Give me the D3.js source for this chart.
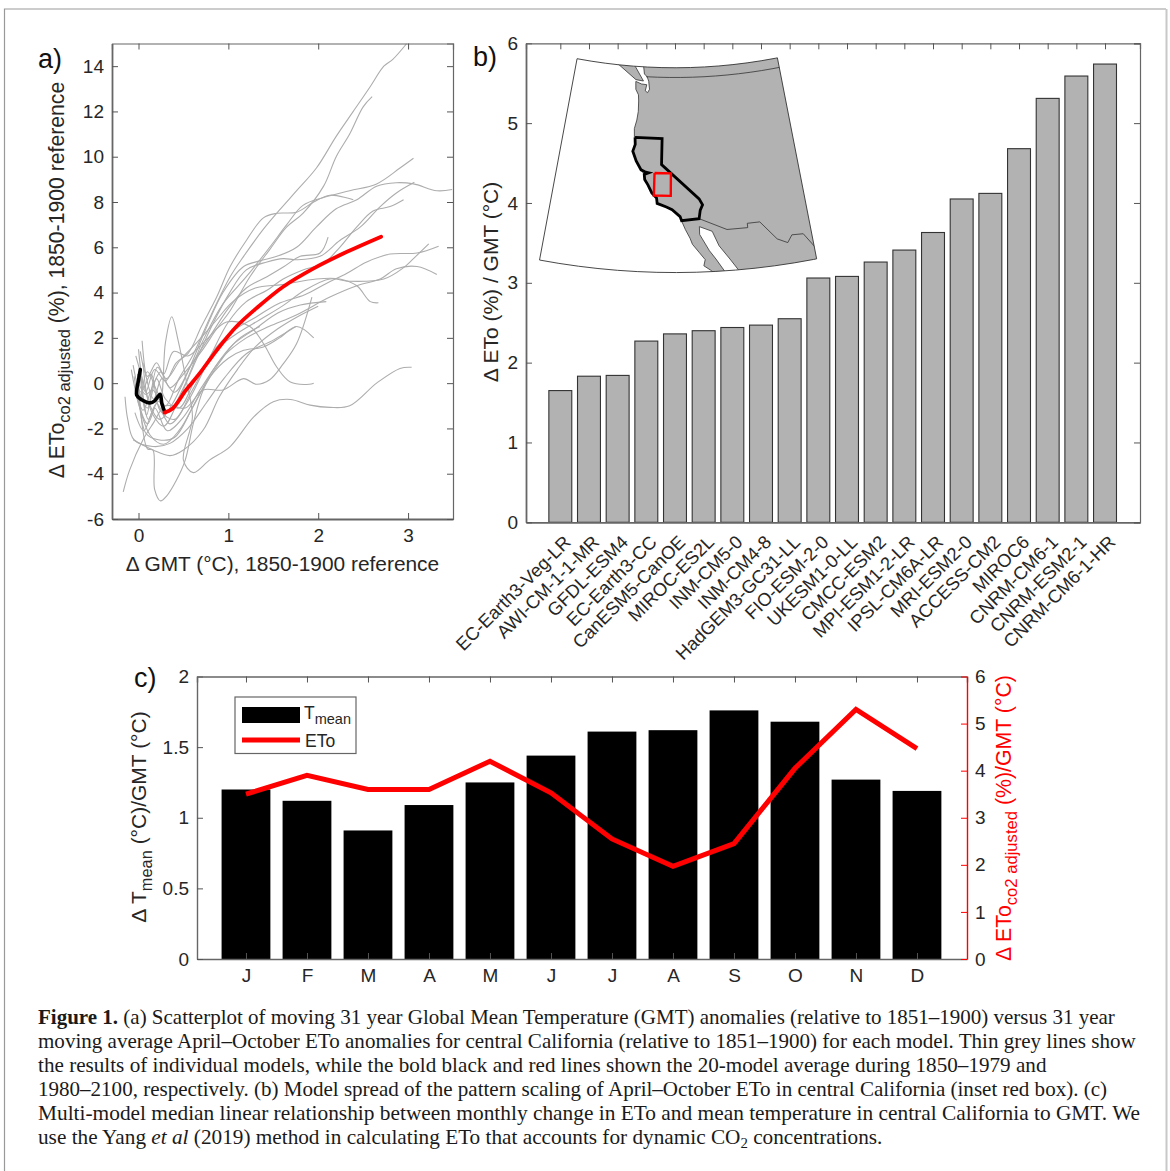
<!DOCTYPE html>
<html>
<head>
<meta charset="utf-8">
<script src="https://cdnjs.cloudflare.com/ajax/libs/d3/7.8.5/d3.min.js"></script>
<style>
  html, body { margin: 0; padding: 0; background: #fff; }
  svg { display: block; }
  text { font-family: "Liberation Sans", Arial, sans-serif; fill: #262626; }
  .caption text { font-family: "Liberation Serif", serif; fill: #1a1a1a; }
</style>
</head>
<body>
<div id="fig"></div>
<script>
// Panel a: each model as [GMT anomaly, ETo anomaly]
var modelLines = [
  [[0.02,-0.8],[0.1,0.5],[0.2,-0.3],[0.3,-1.0],[0.45,0.2],[0.6,1.2],[0.83,3.2],[1.02,4.7],[1.17,5.6],[1.39,6.8],[1.57,7.65],[1.76,8.5],[1.98,9.5],[2.2,10.9],[2.39,12],[2.58,13.1],[2.73,14],[2.83,14.3],[2.985,15]],
  [[-0.05,0.3],[0.05,-1.2],[0.15,-0.2],[0.25,0.5],[0.35,-0.2],[0.5,0.4],[0.7,1.4],[0.87,2.4],[1.02,3.2],[1.24,4.7],[1.46,5.9],[1.65,6.9],[1.83,7.5],[2.06,8.7],[2.2,10],[2.35,11],[2.5,12.2],[2.6,12.65]],
  [[0.0,1.5],[0.08,-0.4],[0.18,0.6],[0.3,0.1],[0.42,0.9],[0.55,1.3],[0.7,2.5],[0.87,3.8],[1.02,5.15],[1.2,6.3],[1.39,7.3],[1.54,7.5],[1.76,7.55],[1.95,8],[2.13,8.3],[2.39,8.1]],
  [[-0.02,-0.6],[0.1,-1.8],[0.22,-0.8],[0.33,-1.3],[0.5,-0.2],[0.72,1.9],[0.94,3.5],[1.2,4.7],[1.46,6],[1.65,7],[1.83,7.85],[2.06,8.2],[2.35,8.5],[2.65,8.8],[2.91,9.5],[3.06,9.93]],
  [[0.05,0.9],[0.12,-0.9],[0.24,-1.6],[0.38,-0.9],[0.55,0.5],[0.75,2.4],[0.94,4],[1.17,5.15],[1.35,5.4],[1.54,5.6],[1.76,6],[1.98,6.9],[2.2,7.7],[2.43,8.1],[2.65,8.7],[2.87,8.85],[3.06,8.8],[3.32,8.5],[3.49,8.55]],
  [[-0.03,1.2],[0.07,-0.2],[0.16,-1.4],[0.28,-1.9],[0.45,-0.7],[0.65,1.1],[0.85,2.8],[1.0,3.9],[1.2,5],[1.43,5.35],[1.61,5.5],[1.76,5.45],[2.02,5.6],[2.24,6.3],[2.47,6.9],[2.69,7.8],[2.87,8.4],[3.07,8.87]],
  [[0.03,0.2],[0.11,-1.6],[0.2,-0.9],[0.35,-1.8],[0.55,-0.8],[0.8,1.2],[1.0,2.7],[1.2,3.6],[1.43,4.1],[1.61,4.6],[1.83,5],[2.06,5.3],[2.24,6],[2.43,6.9],[2.61,7.6],[2.8,7.8],[2.95,8.1]],
  [[0.04,1.87],[0.09,0.2],[0.17,-0.7],[0.26,0.2],[0.4,-0.4],[0.6,0.9],[0.8,2.1],[1.0,3.3],[1.2,4.2],[1.43,4.7],[1.62,5.15],[1.8,5.6],[2.02,5.75],[2.11,6.45]],
  [[-0.06,0.8],[0.03,-0.4],[0.14,0.4],[0.24,-1.2],[0.4,-1.6],[0.6,-0.3],[0.85,1.5],[1.05,2.3],[1.3,2.9],[1.55,3.5],[1.85,3.9],[2.09,4.4],[2.32,4.85],[2.54,5.35],[2.8,5.7],[3.1,5.75],[3.34,6.05]],
  [[0.0,-0.3],[0.1,-1.1],[0.2,0.2],[0.3,-0.7],[0.45,-1.1],[0.65,0.3],[0.9,1.6],[1.1,2.2],[1.35,2.8],[1.6,3.4],[1.85,4.1],[2.13,4.6],[2.35,4.5],[2.73,4.6],[2.95,5.1],[3.06,5.5],[3.23,6.15]],
  [[-0.04,-1.3],[0.06,-2.1],[0.18,-1.1],[0.32,-2.1],[0.5,-1.5],[0.7,-0.2],[0.95,1.2],[1.2,2],[1.45,2.5],[1.75,3],[2.13,3.8],[2.43,4.3],[2.69,4.6],[2.87,5.05],[3.1,5.15],[3.32,4.8]],
  [[0.01,0.7],[0.09,-1.4],[0.21,0.7],[0.31,0.2],[0.46,1.0],[0.65,1.8],[0.85,2.7],[1.05,3.6],[1.3,4.2],[1.6,4.35],[1.98,4.6],[2.24,4.6],[2.43,4.3],[2.58,3.6],[2.67,3.55]],
  [[-0.08,0.6],[0.0,-0.9],[0.13,-2.3],[0.28,-2.7],[0.45,-2.1],[0.65,-0.7],[0.85,0.7],[1.05,1.7],[1.3,2.4],[1.55,3.1],[1.8,3.45],[2.09,3.6]],
  [[-0.01,0.4],[0.08,-2.2],[0.22,-2.5],[0.4,-2.4],[0.6,-1.1],[0.8,0.3],[1.0,1.1],[1.17,1.45],[1.39,1.6],[1.57,2],[1.76,2.5],[1.95,2]],
  [[0.02,1.4],[0.1,0.3],[0.2,0.9],[0.28,0.4],[0.39,1.4],[0.55,1.2],[0.75,1.9],[0.98,2.7],[1.24,2.5],[1.39,1.75],[1.54,0.7],[1.69,0.05],[1.9,-0.05],[1.95,0]],
  [[-0.17,-4.8],[-0.1,-3.85],[0.05,-2.5],[0.16,-1.8],[0.3,-1],[0.52,-1.1],[0.72,-0.3],[0.94,-0.3],[1.17,0.2],[1.31,-0.05],[1.46,0.15],[1.61,0.85],[1.76,1.75],[1.93,3.8]],
  [[-0.06,-2.5],[0.16,-2.95],[0.35,-3.2],[0.5,-2.95],[0.72,-2.07],[0.9,-0.6],[1.1,0.6],[1.3,1.6],[1.55,2.4],[1.8,3],[2.0,3.4]],
  [[-0.15,-0.6],[-0.12,-1.6],[-0.05,-2.5],[0.16,-2.8],[0.35,-2.66],[0.55,-2.0],[0.75,-0.9],[0.95,0.2],[1.2,1.3],[1.5,1.9],[1.75,2.5]],
  [[0.0,0],[0.1,-2.9],[0.16,-2.95],[0.18,-4.7],[0.245,-5.2],[0.31,-5.0],[0.42,-4.3],[0.52,-3.4],[0.61,-1.78],[0.72,-0.3],[0.9,0.9],[1.1,1.9],[1.35,2.5]],
  [[-0.02,0.2],[0.08,-0.5],[0.16,-0.3],[0.24,-0.75],[0.3,1.8],[0.37,2.93],[0.44,1.9],[0.53,0.13],[0.6,-1.5],[0.5,-3.4],[0.61,-3.95],[0.79,-3.4],[1.02,-2.8],[1.28,-1.5],[1.5,-0.82],[1.69,-0.72],[1.91,-0.97],[2.13,-1.07],[2.35,-1],[2.65,0],[2.91,0.65],[3.04,0.7]]
];
var meanEarly = [[0.02,0.6],[0,0.13],[-0.02,-0.53],[0.03,-0.72],[0.13,-0.87],[0.18,-0.78],[0.24,-0.49],[0.26,-0.9],[0.29,-1.26]];
var meanLate = [[0.29,-1.3],[0.38,-1.12],[0.53,-0.3],[0.68,0.43],[0.87,1.45],[1.09,2.5],[1.31,3.3],[1.61,4.26],[1.95,5.07],[2.32,5.8],[2.7,6.47]];

// Panel b
var models = ["EC-Earth3-Veg-LR","AWI-CM-1-1-MR","GFDL-ESM4","EC-Earth3-CC","CanESM5-CanOE","MIROC-ES2L","INM-CM5-0","INM-CM4-8","HadGEM3-GC31-LL","FIO-ESM-2-0","UKESM1-0-LL","CMCC-ESM2","MPI-ESM1-2-LR","IPSL-CM6A-LR","MRI-ESM2-0","ACCESS-CM2","MIROC6","CNRM-CM6-1","CNRM-ESM2-1","CNRM-CM6-1-HR"];
var scaling = [1.65,1.83,1.84,2.27,2.36,2.40,2.44,2.47,2.55,3.06,3.08,3.26,3.41,3.63,4.05,4.12,4.68,5.31,5.59,5.74];

// Panel c
var months = ["J","F","M","A","M","J","J","A","S","O","N","D"];
var tmean = [1.2,1.12,0.91,1.09,1.25,1.44,1.61,1.62,1.76,1.68,1.27,1.19];
var eto = [3.5,3.9,3.6,3.6,4.2,3.53,2.55,1.97,2.45,4.05,5.3,4.47];

// Inset map outlines, [lon, lat]
var mainland = [[-124,52],[-123.3,49.3],[-122.8,49],[-122.5,48.5],[-122.3,47.6],[-122.6,47.2],[-123,47.4],[-122.8,48.1],[-123.7,48.15],[-124.7,48.4],[-124.6,47.5],[-124.1,46.9],[-124,46.2],[-123.95,45],[-124.1,44],[-124.4,43],[-124.3,42],[-124.1,41.2],[-124.4,40.4],[-123.8,39.3],[-123,38.3],[-122.5,37.8],[-122.4,37.2],[-121.9,36.6],[-121.3,35.7],[-120.6,35.1],[-120.5,34.5],[-119.2,34.1],[-118.4,33.8],[-117.3,33],[-117.1,32.5],[-116.6,31.5],[-116,30.5],[-115.7,29.8],[-114.8,28.8],[-114.1,28],[-114.3,27.3],[-113.5,26.8],[-112.5,26],[-111.3,26],[-112.7,28],[-113.5,29],[-114.7,30.9],[-114.7,31.8],[-113,31.2],[-112.2,29.5],[-110.9,27.9],[-109.5,26],[-108,24],[-90,24],[-90,55],[-124,55]];
var vancouver = [[-128.5,50.8],[-125.2,50.3],[-123.4,48.5],[-124.7,48.6],[-128.5,50.4]];
var california = [[-124.2,42],[-120,42],[-120,39],[-114.6,35],[-114.15,34.3],[-114.5,33.7],[-114.7,32.72],[-117.1,32.53],[-117.3,33],[-118.4,33.8],[-119.2,34.1],[-120.5,34.5],[-120.6,35.1],[-121.3,35.7],[-121.9,36.6],[-122.4,37.2],[-122.5,37.8],[-121.9,38],[-122.3,38.05],[-123,38.3],[-123.8,39.3],[-124.4,40.4],[-124.1,41.2],[-124.2,42]];
var mexicoBorder = [[-114.7,32.72],[-111,31.3],[-108.2,31.3],[-108.2,31.8],[-106.5,31.8],[-104.5,29.6],[-103.2,29],[-102.5,29.8],[-101,29.7],[-99.5,27.5]];
var studyBox = [[-121,38],[-118.6,38],[-118.6,35.4],[-121,35.4],[-121,38]];

// Caption, one entry per line, runs are [text, style]
var captionLines = [
  [["Figure 1.","b"],[" (a) Scatterplot of moving 31 year Global Mean Temperature (GMT) anomalies (relative to 1851\u20131900) versus 31 year",""]],
  [["moving average April\u2013October ETo anomalies for central California (relative to 1851\u20131900) for each model. Thin grey lines show",""]],
  [["the results of individual models, while the bold black and red lines shown the 20-model average during 1850\u20131979 and",""]],
  [["1980\u20132100, respectively. (b) Model spread of the pattern scaling of April\u2013October ETo in central California (inset red box). (c)",""]],
  [["Multi-model median linear relationship between monthly change in ETo and mean temperature in central California to GMT. We",""]],
  [["use the Yang ",""],["et al","i"],[" (2019) method in calculating ETo that accounts for dynamic CO",""],["2","s"],[" concentrations.","u"]]
];
var captionEnds = [1115,1137,1047,1108,1141,883];

var svg = d3.select("#fig").append("svg").attr("width", 1170).attr("height", 1171);
var ink = "#262626", axisGrey = "#666";

// page frame
svg.append("path").attr("d", "M4.5,1171V9H1166").attr("fill", "none").attr("stroke", "#999").attr("stroke-width", 1.2);
svg.append("path").attr("d", "M1166.5,9V1171").attr("fill", "none").attr("stroke", "#c8c8c8").attr("stroke-width", 2);

// draws the four sides of a panel, only left/bottom carry labels
function frame(g, x, y, w, h, xAxis, yAxis, yTicks, xTicks) {
  var bottom = g.append("g").attr("transform", `translate(0,${h})`).call(xAxis);
  var left = g.append("g").call(yAxis);
  g.append("g").call(d3.axisTop(x).tickValues(xTicks).tickSize(-6).tickFormat(""));
  g.append("g").attr("transform", `translate(${w},0)`).call(d3.axisRight(y).tickValues(yTicks).tickSize(-6).tickFormat(""));
  g.selectAll(".domain").attr("stroke", axisGrey).attr("stroke-width", 1.2);
  g.selectAll(".tick line").attr("stroke", "#555").attr("stroke-width", 1);
  bottom.select(".domain").attr("stroke-width", 1.8);
  left.select(".domain").attr("stroke-width", 1.8);
  g.selectAll(".tick text").attr("font-size", 19).attr("fill", ink);
  return bottom;
}

function subLabel(parent, transform, parts, size, color) {
  var t = parent.append("text").attr("transform", transform).attr("text-anchor", "middle")
    .attr("font-size", size).style("fill", color || ink);
  parts.forEach(function(p) {
    var s = t.append("tspan").text(p[0]);
    if (p[1] == "sub") s.attr("font-size", size * 0.78).attr("dy", size * 0.3);
    if (p[1] == "up") s.attr("dy", -size * 0.3);
  });
  return t;
}

// ---------- panel a
var aBox = { left: 112, top: 43.5, w: 341, h: 475.5 };
var xA = d3.scaleLinear().domain([-0.295, 3.5]).range([0, aBox.w]);
var yA = d3.scaleLinear().domain([-6, 15]).range([aBox.h, 0]);
var gA = svg.append("g").attr("transform", `translate(${aBox.left},${aBox.top})`);
var lineA = d3.line().x(d => xA(d[0])).y(d => yA(d[1])).curve(d3.curveCatmullRom.alpha(0.5));

gA.append("clipPath").attr("id", "clipA").append("rect").attr("width", aBox.w).attr("height", aBox.h);
gA.append("g").attr("clip-path", "url(#clipA)").selectAll("path").data(modelLines).enter().append("path")
  .attr("d", lineA).attr("fill", "none").attr("stroke", "#adadad").attr("stroke-width", 1.1);
gA.append("path").datum(meanEarly).attr("d", lineA).attr("fill", "none").attr("stroke", "#000").attr("stroke-width", 3.6).attr("stroke-linecap", "round");
gA.append("path").datum(meanLate).attr("d", lineA).attr("fill", "none").attr("stroke", "#f00").attr("stroke-width", 3.8).attr("stroke-linecap", "round");

frame(gA, xA, yA, aBox.w, aBox.h,
  d3.axisBottom(xA).tickValues([0,1,2,3]).tickSize(-6).tickPadding(10).tickSizeOuter(0).tickFormat(String),
  d3.axisLeft(yA).tickValues(d3.range(-6, 15, 2)).tickSize(-6).tickPadding(8).tickSizeOuter(0).tickFormat(String),
  d3.range(-6, 15, 2), [0,1,2,3]);

svg.append("text").attr("x", 38).attr("y", 68).attr("font-size", 27).style("fill", "#111").text("a)");
svg.append("text").attr("x", 282.5).attr("y", 571).attr("text-anchor", "middle").attr("font-size", 20.9).text("\u0394 GMT (\u00b0C), 1850-1900 reference");
subLabel(svg, "translate(64,280) rotate(-90)", [["\u0394 ETo",""],["co2 adjusted","sub"],[" (%), 1850-1900 reference","up"]], 21.2);

// ---------- panel b
var bBox = { left: 526, top: 43.3, w: 614, h: 479 };
var xB = d3.scaleLinear().domain([-0.197, 21.22]).range([0, bBox.w]);
var yB = d3.scaleLinear().domain([0, 6]).range([bBox.h, 0]);
var gB = svg.append("g").attr("transform", `translate(${bBox.left},${bBox.top})`);

gB.selectAll("rect").data(scaling).enter().append("rect")
  .attr("x", (d, i) => xB(i + 1 - 0.4)).attr("width", xB(0.8) - xB(0))
  .attr("y", d => yB(d)).attr("height", d => yB(0) - yB(d))
  .attr("fill", "#b2b2b2").attr("stroke", "#333").attr("stroke-width", 1.1);

var modelTicks = d3.range(1, models.length + 1);
var bottomB = frame(gB, xB, yB, bBox.w, bBox.h,
  d3.axisBottom(xB).tickValues(modelTicks).tickSize(0).tickSizeOuter(0).tickFormat(i => models[i - 1]),
  d3.axisLeft(yB).tickValues(d3.range(0, 7)).tickSize(-6).tickPadding(8).tickSizeOuter(0).tickFormat(String),
  d3.range(0, 7), modelTicks);
bottomB.selectAll(".tick text")
  .attr("font-size", 18.4).attr("text-anchor", "end").attr("dy", 0).attr("x", 0).attr("y", 0)
  .attr("transform", "translate(11,21) rotate(-45)");

svg.append("text").attr("x", 473).attr("y", 66).attr("font-size", 27).style("fill", "#111").text("b)");
svg.append("text").attr("transform", "translate(498,282) rotate(-90)").attr("text-anchor", "middle").attr("font-size", 21).text("\u0394 ETo (%) / GMT (\u00b0C)");

// inset map
var projection = d3.geoConicConformal().parallels([30, 45]).rotate([118, 0]).center([0, 37])
  .scale(500).translate([675, 182]);
var geoPath = d3.geoPath(projection);
var frameLons = d3.range(-135.3, -99.8, 2.5), frameLats = [50.1, 26.6];
frameLons.push(-99.9);
var mapFrame = { type: "LineString", coordinates:
  frameLons.map(lon => [lon, frameLats[0]]).concat(frameLons.slice().reverse().map(lon => [lon, frameLats[1]]), [[-135.3, frameLats[0]]]) };
function asLine(c) { return { type: "LineString", coordinates: c }; }

var map = svg.append("g");
map.append("clipPath").attr("id", "clipMap").append("path").attr("d", geoPath(mapFrame));
map.append("path").attr("d", geoPath(mapFrame)).attr("fill", "#fff");
var mapInner = map.append("g").attr("clip-path", "url(#clipMap)");
[mainland, vancouver].forEach(function(c) {
  mapInner.append("path").attr("d", geoPath(asLine(c))).attr("fill", "#b2b2b2").attr("stroke", "#333").attr("stroke-width", 0.8);
});
mapInner.append("path").attr("d", geoPath(asLine(d3.range(-123, -94, 2).map(lon => [lon, 49])))).attr("fill", "none").attr("stroke", "#333").attr("stroke-width", 0.8);
mapInner.append("path").attr("d", geoPath(asLine(mexicoBorder))).attr("fill", "none").attr("stroke", "#333").attr("stroke-width", 0.8);
mapInner.append("path").attr("d", geoPath(asLine(california))).attr("fill", "none").attr("stroke", "#000").attr("stroke-width", 2.8);
mapInner.append("path").attr("d", geoPath(asLine(studyBox))).attr("fill", "none").attr("stroke", "#f00").attr("stroke-width", 2.4);
map.append("path").attr("d", geoPath(mapFrame)).attr("fill", "none").attr("stroke", "#333").attr("stroke-width", 0.9);

// ---------- panel c
var cBox = { left: 197, top: 676.5, w: 770, h: 282.5 };
var xC = d3.scaleLinear().domain([0.197, 12.82]).range([0, cBox.w]);
var yC = d3.scaleLinear().domain([0, 2]).range([cBox.h, 0]);
var yE = d3.scaleLinear().domain([0, 6]).range([cBox.h, 0]);
var gC = svg.append("g").attr("transform", `translate(${cBox.left},${cBox.top})`);

gC.selectAll("rect").data(tmean).enter().append("rect")
  .attr("x", (d, i) => xC(i + 1 - 0.4)).attr("width", xC(0.8) - xC(0))
  .attr("y", d => yC(d)).attr("height", d => yC(0) - yC(d))
  .attr("fill", "#000");

var monthTicks = d3.range(1, 13);
gC.append("g").attr("transform", `translate(0,${cBox.h})`)
  .call(d3.axisBottom(xC).tickValues(monthTicks).tickSize(-6).tickPadding(10).tickSizeOuter(0).tickFormat(i => months[i - 1]));
gC.append("g")
  .call(d3.axisLeft(yC).tickValues([0, 0.5, 1, 1.5, 2]).tickSize(-6).tickPadding(8).tickSizeOuter(0).tickFormat(String));
gC.append("g").call(d3.axisTop(xC).tickValues(monthTicks).tickSize(-6).tickFormat(""));
var rightC = gC.append("g").attr("transform", `translate(${cBox.w},0)`)
  .call(d3.axisRight(yE).tickValues(d3.range(0, 7)).tickSize(-6).tickPadding(8).tickSizeOuter(0).tickFormat(String));
gC.selectAll(".domain").attr("stroke", axisGrey).attr("stroke-width", 1.4);
gC.selectAll(".tick line").attr("stroke", "#555");
gC.selectAll(".tick text").attr("font-size", 19).attr("fill", ink);
rightC.select(".domain").attr("stroke", "#f00");
rightC.selectAll(".tick line").attr("stroke", "#f00");
rightC.selectAll(".tick text").attr("fill", "#f00");

gC.append("path").datum(eto)
  .attr("d", d3.line().x((d, i) => xC(i + 1)).y(d => yE(d)))
  .attr("fill", "none").attr("stroke", "#f00").attr("stroke-width", 5);

// legend
var legend = svg.append("g").attr("transform", "translate(235,697)");
legend.append("rect").attr("width", 121).attr("height", 56.5).attr("fill", "#fff").attr("stroke", "#666").attr("stroke-width", 1.2);
legend.append("rect").attr("x", 7).attr("y", 10).attr("width", 58).attr("height", 16).attr("fill", "#000");
legend.append("line").attr("x1", 7).attr("x2", 65).attr("y1", 43).attr("y2", 43).attr("stroke", "#f00").attr("stroke-width", 5);
var legendT = legend.append("text").attr("x", 69).attr("y", 22).attr("font-size", 17.5);
legendT.append("tspan").text("T");
legendT.append("tspan").attr("dy", 5).attr("font-size", 14.5).text("mean");
legend.append("text").attr("x", 70).attr("y", 50).attr("font-size", 17.5).text("ETo");

svg.append("text").attr("x", 134).attr("y", 687).attr("font-size", 27).style("fill", "#111").text("c)");
subLabel(svg, "translate(146,817) rotate(-90)", [["\u0394 T",""],["mean","sub"],[" (\u00b0C)/GMT (\u00b0C)","up"]], 21);
subLabel(svg, "translate(1011,818) rotate(-90)", [["\u0394 ETo",""],["co2 adjusted","sub"],[" (%)/GMT (\u00b0C)","up"]], 21.3, "#f00");

// ---------- caption, squeezed to the measured line ends
var captionG = svg.append("g").attr("class", "caption");
captionLines.forEach(function(runs, i) {
  var base = 1024 + i * 24;
  var t = captionG.append("text").attr("font-size", 20);
  runs.forEach(function(r) {
    var s = t.append("tspan").text(r[0]);
    if (r[1] == "b") s.attr("font-weight", "bold");
    if (r[1] == "i") s.attr("font-style", "italic");
    if (r[1] == "s") s.attr("font-size", 14).attr("dy", 4);
    if (r[1] == "u") s.attr("dy", -4);
  });
  var len = t.node().getComputedTextLength();
  t.attr("transform", `translate(38,${base}) scale(${(captionEnds[i] - 38) / len},1)`);
});
</script>
</body>
</html>
